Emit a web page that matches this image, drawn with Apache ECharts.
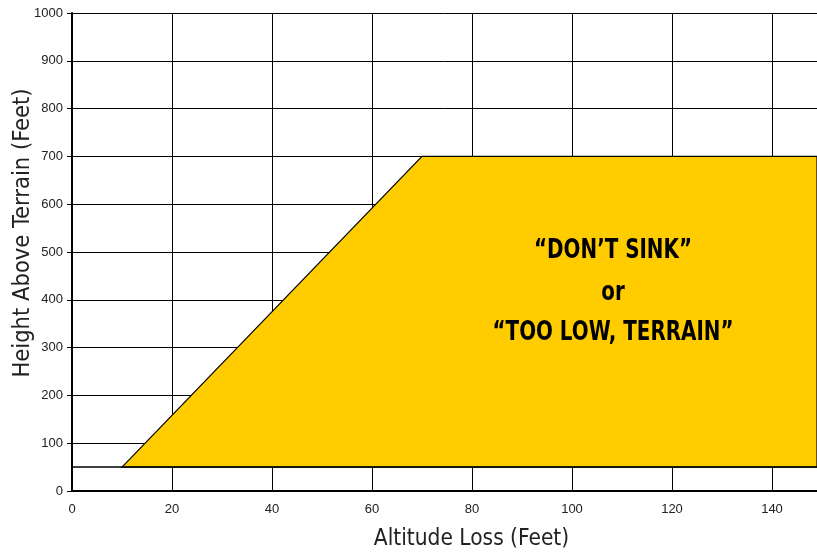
<!DOCTYPE html>
<html>
<head>
<meta charset="utf-8">
<script src="https://cdn.jsdelivr.net/npm/echarts@6/dist/echarts.min.js"></script>
<style>
html,body{margin:0;padding:0;background:#fff;}
#chart{width:817px;height:556px;}
</style>
</head>
<body>
<div id="chart"></div>
<script>
// Warning envelope: altitude loss (ft) vs height above terrain (ft)
const envelopeX = [10, 70, 149, 149];
const envelopeY = [50, 700, 700, 50];
const floorX = [0, 149];
const floorY = [50, 50];
const xTicks = [0, 20, 40, 60, 80, 100, 120, 140];
const yTicks = [0, 100, 200, 300, 400, 500, 600, 700, 800, 900, 1000];
const alertLines = ['\u201CDON\u2019T SINK\u201D', 'or', '\u201CTOO LOW, TERRAIN\u201D'];

const envelope = envelopeX.map((x, i) => [x, envelopeY[i]]);
const floor = floorX.map((x, i) => [x, floorY[i]]);

const chart = echarts.init(document.getElementById('chart'), null, {renderer: 'canvas'});
const condensed = '"Liberation Sans Narrow", "DejaVu Sans Condensed", "Roboto Condensed", sans-serif';

function alertText(text, y) {
  return {
    type: 'text', z: 10, x: 613, y: y, scaleX: 0.85,
    style: {text: text, font: 'bold 26px ' + condensed, fill: '#000', align: 'center', verticalAlign: 'middle'}
  };
}

chart.setOption({
  animation: false,
  grid: {left: 72, right: 0, top: 13, bottom: 65, outerBoundsMode: 'none', containLabel: false},
  xAxis: {
    type: 'value', min: 0, max: 149, interval: 20,
    name: 'Altitude Loss (Feet)', nameLocation: 'middle', nameGap: 37, nameMoveOverlap: false,
    nameTextStyle: {fontFamily: condensed, fontSize: 22.5, color: '#222', padding: [0, 0, 0, 54]},
    axisLine: {show: true, lineStyle: {color: '#000', width: 2}},
    axisTick: {show: false},
    axisLabel: {
      color: '#222', fontSize: 13, fontFamily: 'Liberation Sans, Arial, sans-serif', margin: 12,
      formatter: v => xTicks.includes(v) ? String(v) : ''
    },
    splitLine: {show: true, lineStyle: {color: '#000', width: 1}}
  },
  yAxis: {
    type: 'value', min: 0, max: 1000, interval: 100,
    name: 'Height Above Terrain (Feet)', nameLocation: 'middle', nameGap: 37, nameMoveOverlap: false,
    nameTextStyle: {fontFamily: condensed, fontSize: 23.5, color: '#222', padding: [0, 0, 0, 38]},
    axisLine: {show: true, lineStyle: {color: '#000', width: 2}},
    axisTick: {show: true, length: 5, lineStyle: {color: '#000', width: 1}},
    axisLabel: {
      color: '#222', fontSize: 13, fontFamily: 'Liberation Sans, Arial, sans-serif', margin: 9,
      formatter: v => yTicks.includes(v) ? String(v) : ''
    },
    splitLine: {show: true, lineStyle: {color: '#000', width: 1}}
  },
  series: [
    {
      type: 'custom',
      z: 1,
      renderItem: (params, api) => {
        const pts = envelope.map(p => api.coord(p));
        return {
          type: 'polygon',
          shape: {points: pts},
          style: {fill: '#FFCC00', stroke: '#000', lineWidth: 1.2}
        };
      },
      data: [0],
      clip: true,
      silent: true
    },
    {
      type: 'line',
      z: 3,
      data: floor,
      symbol: 'none',
      lineStyle: {color: '#000', width: 1.5},
      silent: true
    }
  ],
  graphic: [
    alertText(alertLines[0], 251),
    alertText(alertLines[1], 293),
    alertText(alertLines[2], 333)
  ]
});
</script>
</body>
</html>
